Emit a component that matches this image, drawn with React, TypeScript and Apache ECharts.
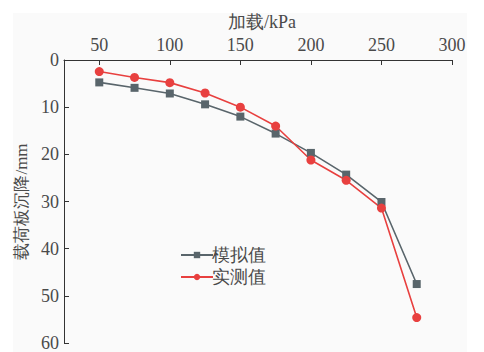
import React, { useEffect, useRef } from "react";
import * as echarts from "echarts";

const loads = [50, 75, 100, 125, 150, 175, 200, 225, 250, 275];
const simulated = [4.75, 5.9, 7.1, 9.4, 12.0, 15.6, 19.7, 24.3, 30.1, 47.5];
const measured = [2.45, 3.7, 4.8, 7.0, 10.0, 14.0, 21.2, 25.5, 31.4, 54.6];
const xTicks = [50, 100, 150, 200, 250, 300];
const seriesNames = ["模拟值", "实测值"];

const FONT = "Liberation Serif";
const TEXT = "#4a4a4a";

export default function App() {
  const ref = useRef<HTMLDivElement>(null);
  useEffect(() => {
    const chart = echarts.init(ref.current!, null, { renderer: "svg" });
    chart.setOption({
      animation: false,
      backgroundColor: "#ffffff",
      graphic: [
        {
          type: "rect",
          z: -10,
          shape: { x: 13, y: 13, width: 454, height: 339 },
          style: { fill: "#fafafa" },
          silent: true,
        },
      ],
      grid: { left: 64, top: 60, right: 32, bottom: 5 },
      legend: {
        left: 175,
        top: 241,
        orient: "vertical",
        itemWidth: 32,
        itemHeight: 8,
        itemGap: 4,
        textStyle: { fontFamily: FONT, fontSize: 18, color: TEXT, padding: [0, 0, 0, -6] },
        data: seriesNames,
      },
      xAxis: {
        type: "value",
        position: "top",
        min: 25,
        max: 300,
        name: "加载/kPa",
        nameLocation: "middle",
        nameGap: 29,
        nameTextStyle: { fontFamily: FONT, fontSize: 18, color: TEXT, padding: [0, 0, 0, 8] },
        axisLine: { show: true, lineStyle: { color: "#333", width: 1 } },
        axisTick: { show: true, inside: true, length: 5, customValues: xTicks, lineStyle: { color: "#333" } },
        axisLabel: { customValues: xTicks, fontFamily: FONT, fontSize: 18, color: TEXT, margin: 6 },
        splitLine: { show: false },
      },
      yAxis: {
        type: "value",
        inverse: true,
        min: 0,
        max: 60,
        interval: 10,
        name: "载荷板沉降/mm",
        nameLocation: "middle",
        nameGap: 30,
        nameTextStyle: { fontFamily: FONT, fontSize: 17, color: TEXT },
        axisLine: { show: true, lineStyle: { color: "#333", width: 1 } },
        axisTick: { show: true, inside: true, length: 5, lineStyle: { color: "#333" } },
        axisLabel: { fontFamily: FONT, fontSize: 18, color: TEXT, margin: 5 },
        splitLine: { show: false },
      },
      series: [
        {
          name: seriesNames[0],
          type: "line",
          data: loads.map((x, i) => [x, simulated[i]]),
          symbol: "rect",
          symbolSize: 8,
          itemStyle: { color: "#59656b" },
          lineStyle: { color: "#59656b", width: 1.6 },
        },
        {
          name: seriesNames[1],
          type: "line",
          data: loads.map((x, i) => [x, measured[i]]),
          symbol: "circle",
          symbolSize: 9,
          itemStyle: { color: "#e8403f" },
          lineStyle: { color: "#e8403f", width: 1.6 },
        },
      ],
    });
    return () => chart.dispose();
  }, []);
  return (
    <div
      ref={ref}
      style={{ position: "fixed", left: 0, top: 0, width: 484, height: 352 }}
    />
  );
}
